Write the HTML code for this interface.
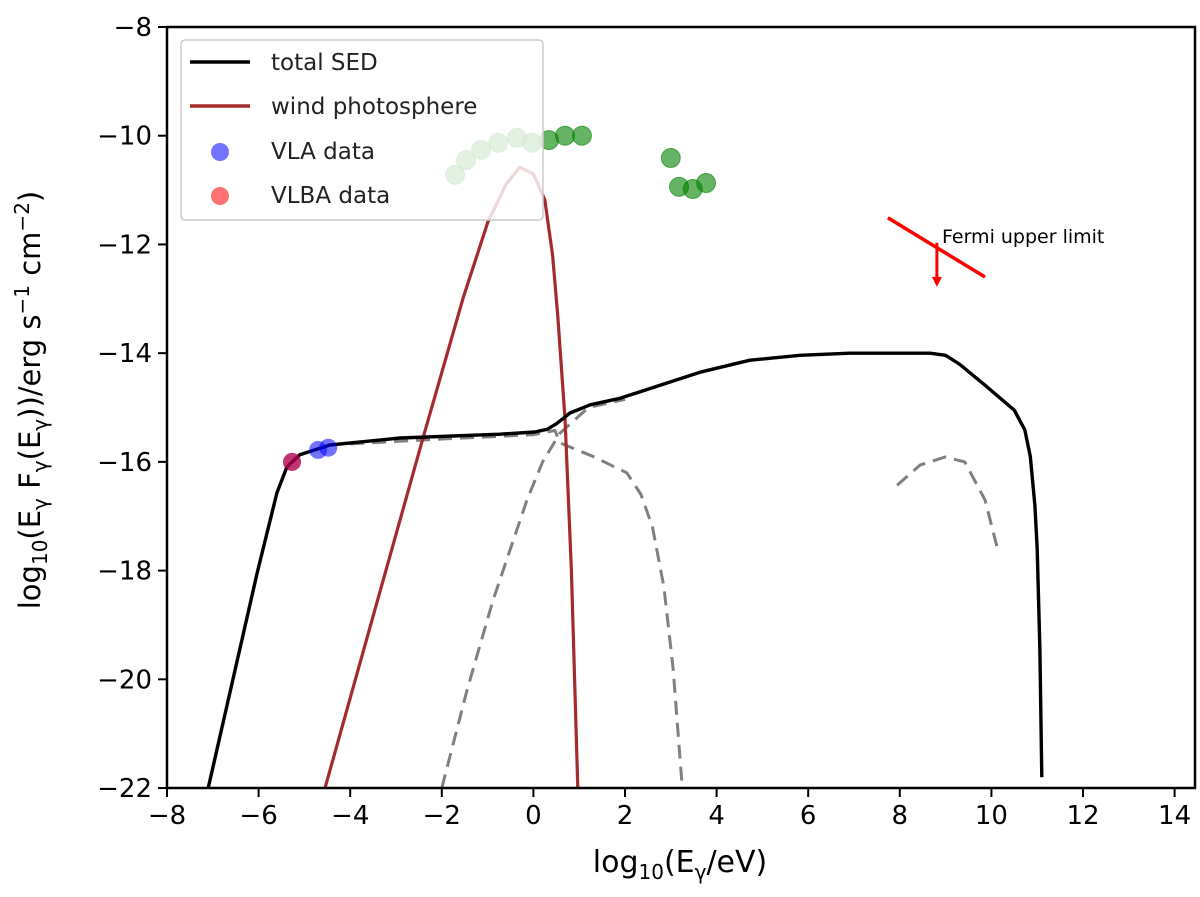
<!DOCTYPE html>
<html><head><meta charset="utf-8"><style>
body{margin:0;background:#fff;}
svg{display:block;font-family:"DejaVu Sans","Liberation Sans",sans-serif;}
</style></head><body>
<svg id="chart" width="1200" height="897" viewBox="0 0 1200 897">
<g id="plot"></g>
</svg>
<script>
const xTicks=[-8,-6,-4,-2,0,2,4,6,8,10,12,14];
const yTicks=[-8,-10,-12,-14,-16,-18,-20,-22];
const totalX=[-7.1,-6.03,-5.6,-5.38,-5.1,-4.44,-2.91,-0.73,0.03,0.3,0.5,0.8,1.24,1.89,3.64,4.73,5.82,6.91,8.66,9.0,9.3,9.86,10.5,10.73,10.85,10.95,11.0,11.06,11.1];
const totalY=[-22,-18.04,-16.57,-16.09,-15.87,-15.69,-15.56,-15.49,-15.45,-15.4,-15.3,-15.1,-14.95,-14.83,-14.35,-14.13,-14.04,-14.0,-14.0,-14.04,-14.2,-14.59,-15.05,-15.41,-15.9,-16.8,-17.6,-19.46,-21.8];
const windX=[-4.55,-2.41,-1.54,-1.0,-0.6,-0.3,0.0,0.25,0.42,0.53,0.69,0.83,0.97];
const windY=[-22,-15.56,-13.0,-11.6,-10.9,-10.58,-10.7,-11.18,-12.2,-13.3,-15.2,-18,-22];
const dash1X=[-2.0,-1.45,-0.88,-0.14,0.2,0.58,1.2,2.0];
const dash1Y=[-22,-20.2,-18.54,-16.7,-16.0,-15.47,-15.0,-14.85];
const dash2X=[-4.0,-2.0,0.0,0.47,0.58,1.3,2.04,2.35,2.6,2.85,3.05,3.25];
const dash2Y=[-15.67,-15.58,-15.5,-15.42,-15.65,-15.9,-16.2,-16.6,-17.2,-18.3,-19.8,-22];
const dash3X=[7.94,8.44,8.99,9.42,9.86,10.14];
const dash3Y=[-16.43,-16.06,-15.91,-16.0,-16.7,-17.62];
const greenX=[-1.71,-1.47,-1.14,-0.77,-0.36,-0.03,0.34,0.69,1.06,3.0,3.18,3.48,3.77];
const greenY=[-10.72,-10.45,-10.26,-10.13,-10.04,-10.13,-10.08,-10.0,-10.0,-10.41,-10.94,-10.98,-10.87];
const vlaX=[-5.27,-4.70,-4.48];
const vlaY=[-16.0,-15.78,-15.74];
const vlbaX=[-5.27];
const vlbaY=[-16.0];
const fermiX=[7.74,9.86];
const fermiY=[-11.51,-12.6];
const fermiArrowX=[8.81];
const fermiArrowY=[-11.97,-12.78];

const L=167,R=1195,T=27,B=788;
function sx(v){return L+(v+8)*45.8;}
function sy(v){return T+(-8-v)*54.36;}
const NS='http://www.w3.org/2000/svg';
const g=document.getElementById('plot');
function mk(tag,attrs,parent){const e=document.createElementNS(NS,tag);for(const k in attrs)e.setAttribute(k,attrs[k]);(parent||g).appendChild(e);return e;}
function pathD(xs,ys){return xs.map((x,i)=>(i?'L':'M')+sx(x).toFixed(1)+','+sy(ys[i]).toFixed(1)).join(' ');}

const clip=mk('clipPath',{id:'cp'});mk('rect',{x:L,y:T,width:R-L,height:B-T},clip);
const data=mk('g',{'clip-path':'url(#cp)'});

let e;
e=mk('path',{d:pathD(dash1X,dash1Y),fill:'none',stroke:'#808080','stroke-width':3,'stroke-dasharray':'14,8','stroke-linejoin':'round'},data);


e=mk('path',{d:pathD(dash2X,dash2Y),fill:'none',stroke:'#808080','stroke-width':3,'stroke-dasharray':'14,8','stroke-linejoin':'round'},data);


e=mk('path',{d:pathD(dash3X,dash3Y),fill:'none',stroke:'#808080','stroke-width':3,'stroke-dasharray':'14,8','stroke-linejoin':'round'},data);


e=mk('path',{d:pathD(windX,windY),fill:'none',stroke:'#a52a2a','stroke-width':3.2,'stroke-linejoin':'round'},data);


e=mk('path',{d:pathD(totalX,totalY),fill:'none',stroke:'#000','stroke-width':3.4,'stroke-linejoin':'round'},data);


greenX.forEach((x,i)=>{const c=mk('circle',{cx:sx(x),cy:sy(greenY[i]),r:9.5,fill:'rgba(0,128,0,0.6)',stroke:'rgba(0,128,0,0.6)','stroke-width':1},data);

});
vlaX.forEach((x,i)=>{const c=mk('circle',{cx:sx(x),cy:sy(vlaY[i]),r:9,fill:'rgba(0,0,255,0.55)'},data);

});
vlbaX.forEach((x,i)=>{const c=mk('circle',{cx:sx(x),cy:sy(vlbaY[i]),r:9,fill:'rgba(255,0,0,0.55)'},data);

});
e=mk('line',{x1:sx(fermiX[0]),y1:sy(fermiY[0]),x2:sx(fermiX[1]),y2:sy(fermiY[1]),stroke:'#f00','stroke-width':3.5},data);


e=mk('line',{x1:sx(fermiArrowX[0]),y1:sy(fermiArrowY[0]),x2:sx(fermiArrowX[0]),y2:sy(fermiArrowY[1])-8,stroke:'#f00','stroke-width':3},data);


const ax=sx(fermiArrowX[0]),ay=sy(fermiArrowY[1]);
e=mk('path',{d:`M${ax-5},${ay-10} L${ax+5},${ay-10} L${ax},${ay} Z`,fill:'#f00'},data);


e=mk('text',{x:942,y:243,'font-size':19,fill:'#000'});e.textContent='Fermi upper limit';



e=mk('rect',{x:L,y:T,width:R-L,height:B-T,fill:'none',stroke:'#000','stroke-width':2.5});


xTicks.forEach(t=>{const x=sx(t);mk('line',{x1:x,y1:B,x2:x,y2:B+9,stroke:'#000','stroke-width':2});
const tx=mk('text',{x:x,y:B+36,'font-size':26,'text-anchor':'middle'});tx.textContent=(t<0?'\u2212':'')+Math.abs(t);

});
yTicks.forEach(t=>{const y=sy(t);mk('line',{x1:L-9,y1:y,x2:L,y2:y,stroke:'#000','stroke-width':2});
const tx=mk('text',{x:L-15,y:y+9,'font-size':26,'text-anchor':'end'});tx.textContent=(t<0?'\u2212':'')+Math.abs(t);

});

const lg=mk('g',{});


mk('rect',{x:181,y:40,width:362,height:180,rx:4,fill:'rgba(255,255,255,0.82)',stroke:'#ccc','stroke-width':1.5},lg);
mk('line',{x1:190,y1:62,x2:250,y2:62,stroke:'#000','stroke-width':3.4},lg);
mk('line',{x1:190,y1:106,x2:250,y2:106,stroke:'#a52a2a','stroke-width':3.4},lg);
mk('circle',{cx:220,cy:152,r:9,fill:'rgba(0,0,255,0.55)'},lg);
mk('circle',{cx:220,cy:196,r:9,fill:'rgba(255,0,0,0.55)'},lg);
[['total SED',70],['wind photosphere',114],['VLA data',159],['VLBA data',203]].forEach(([s,y])=>{const t=mk('text',{x:271,y:y,'font-size':23,fill:'#222'},lg);t.textContent=s;

});

e=mk('text',{x:680,y:872,'font-size':30,'text-anchor':'middle'});
e.innerHTML='log<tspan font-size="20" dy="7">10</tspan><tspan dy="-7">(E</tspan><tspan font-size="20" dy="7">γ</tspan><tspan dy="-7">/eV)</tspan>';


e=mk('text',{x:0,y:0,'font-size':29,'text-anchor':'middle',transform:'translate(40,400) rotate(-90)'});
e.innerHTML='log<tspan font-size="20" dy="7">10</tspan><tspan dy="-7">(E</tspan><tspan font-size="20" dy="7">γ</tspan><tspan dy="-7"> F</tspan><tspan font-size="20" dy="7">γ</tspan><tspan dy="-7">(E</tspan><tspan font-size="20" dy="7">γ</tspan><tspan dy="-7">))/erg s</tspan><tspan font-size="20" dy="-11">−1</tspan><tspan dy="11"> cm</tspan><tspan font-size="20" dy="-11">−2</tspan><tspan dy="11">)</tspan>';


</script>
</body></html>
